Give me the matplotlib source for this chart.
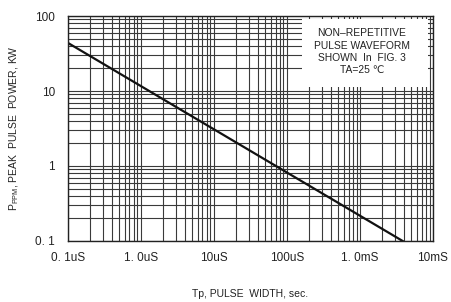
import numpy as np
import matplotlib
matplotlib.use("Agg")
import matplotlib.pyplot as plt
from matplotlib.patches import Rectangle
from matplotlib.ticker import LogLocator, NullFormatter

plt.rcParams['font.family'] = ['Liberation Sans', 'DejaVu Sans']

# pulse width (s) and peak pulse power (kW)
tp = [1e-7, 3.85e-3]
ppk = [44, 0.1]

xticks = [1e-7, 1e-6, 1e-5, 1e-4, 1e-3, 1e-2]
xlabels = ["0. 1uS", "1. 0uS", "10uS", "100uS", "1. 0mS", "10mS"]
yticks = [0.1, 1, 10, 100]
ylabels = ["0. 1", "1", "10", "100"]

note = "NON\u2013REPETITIVE\nPULSE WAVEFORM\nSHOWN  In  FIG. 3\nTA=25 \u2103"

fig = plt.figure(figsize=(4.51, 3.02), dpi=100)
ax = fig.add_axes([0.150, 0.202, 0.810, 0.745])

ax.set_xscale('log')
ax.set_yscale('log')
ax.set_xlim(1e-7, 1e-2)
ax.set_ylim(0.1, 100)

ax.set_xticks(xticks)
ax.set_xticklabels(xlabels)
ax.set_yticks(yticks)
ax.set_yticklabels(ylabels)
ax.xaxis.set_minor_locator(LogLocator(base=10, subs=np.arange(2, 10), numticks=20))
ax.yaxis.set_minor_locator(LogLocator(base=10, subs=np.arange(2, 10), numticks=20))
ax.xaxis.set_minor_formatter(NullFormatter())
ax.yaxis.set_minor_formatter(NullFormatter())
ax.set_axisbelow(True)
ax.grid(True, which='both', color='#3a3a3a', linewidth=0.8)
ax.tick_params(which='both', length=0, labelsize=8.5, colors='#222222')
ax.tick_params(axis='y', pad=9)
ax.tick_params(axis='x', pad=8)

# white panel for the note
ax.add_patch(Rectangle((1.6e-4, 11.3), 8.5e-3 - 1.6e-4, 91 - 11.3,
                       facecolor='white', edgecolor='none', zorder=1.5))
ax.text(1.07e-3, 33.5, note, ha='center', va='center', fontsize=7.4,
        linespacing=1.28, color='#222222', zorder=3)

ax.plot(tp, ppk, color='#111111', linewidth=1.6, zorder=4)

for s in ax.spines.values():
    s.set_color('#222222')
    s.set_linewidth(1.0)
    s.set_zorder(5)

ax.set_xlabel("Tp, PULSE  WIDTH, sec.", fontsize=7.5, color='#222222', labelpad=18)
ax.set_ylabel(r"P$_{\mathregular{PPM}}$, PEAK  PULSE  POWER, KW", fontsize=7.5,
              color='#222222', labelpad=10)

fig.savefig("out.png", dpi=100)
